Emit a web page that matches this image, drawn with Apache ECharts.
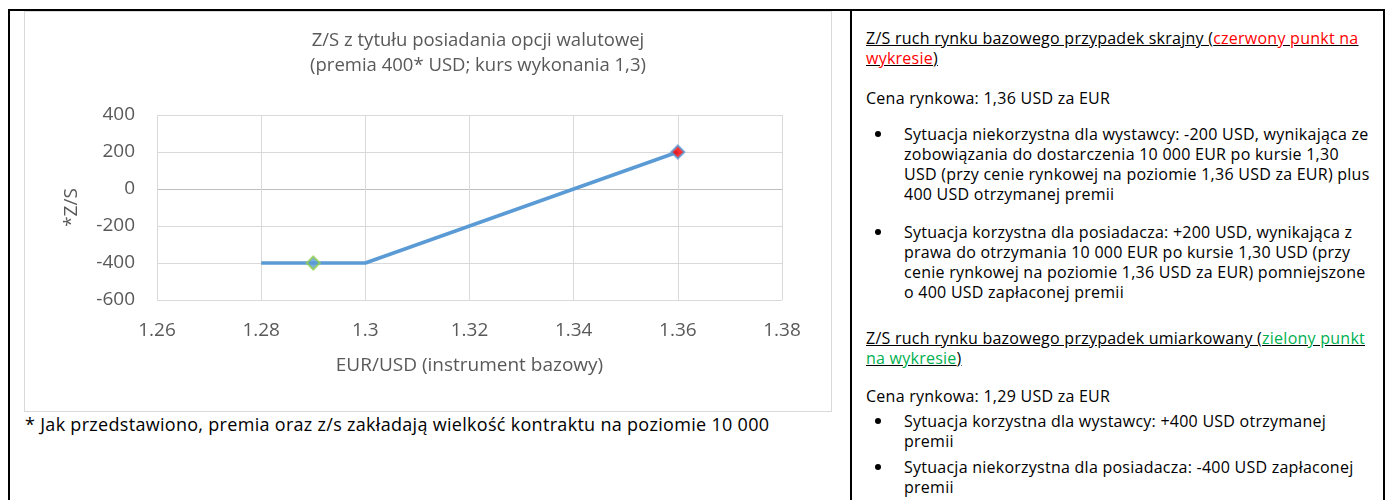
<!DOCTYPE html>
<html lang="pl">
<head>
<meta charset="UTF-8">
<title>Z/S opcji walutowej</title>
<style>
  body { margin: 0; background: #fff; width: 1387px; height: 500px; overflow: hidden; position: relative; font-family: "Open Sans", sans-serif; }
  .bl { position: absolute; background: #000; }
  #chart { position: absolute; left: 24px; top: 11px; width: 808px; height: 401px; border: 1px solid #d9d9d9; box-sizing: border-box; }
  #note { position: absolute; left: 25px; top: 412px; font-size: 18px; letter-spacing: 0.3px; line-height: 24px; color: #000; white-space: nowrap; }
  .p { position: absolute; left: 866px; font-size: 16px; letter-spacing: 0.25px; line-height: 20px; color: #000; white-space: nowrap; }
  .p.li { left: 904px; }
  .p.li:before { content: ""; position: absolute; left: -29px; top: 7px; width: 6px; height: 6px; border-radius: 3px; background: #000; }
  .u { text-decoration: underline; }
  .red { color: #ff0000; }
  .green { color: #00b050; }
</style>
</head>
<body>
  <div class="bl" style="left:8px;top:9px;width:1377px;height:2px"></div>
  <div class="bl" style="left:8px;top:9px;width:2px;height:491px"></div>
  <div class="bl" style="left:850px;top:9px;width:2px;height:491px"></div>
  <div class="bl" style="left:1383px;top:9px;width:2px;height:491px"></div>

  <div id="chart"></div>
  <div id="note">* Jak przedstawiono, premia oraz z/s zakładają wielkość kontraktu na poziomie 10 000</div>

  <div class="p u" style="top:28px">Z/S ruch rynku bazowego przypadek skrajny (<span class="red">czerwony punkt na<br>wykresie</span>)</div>
  <div class="p" style="top:88px">Cena rynkowa: 1,36 USD za EUR</div>
  <div class="p li" style="top:124px">Sytuacja niekorzystna dla wystawcy: -200 USD, wynikająca ze<br>zobowiązania do dostarczenia 10 000 EUR po kursie 1,30<br>USD (przy cenie rynkowej na poziomie 1,36 USD za EUR) plus<br>400 USD otrzymanej premii</div>
  <div class="p li" style="top:222px">Sytuacja korzystna dla posiadacza: +200 USD, wynikająca z<br>prawa do otrzymania 10 000 EUR po kursie 1,30 USD (przy<br>cenie rynkowej na poziomie 1,36 USD za EUR) pomniejszone<br>o 400 USD zapłaconej premii</div>
  <div class="p u" style="top:328px">Z/S ruch rynku bazowego przypadek umiarkowany (<span class="green">zielony punkt<br>na wykresie</span>)</div>
  <div class="p" style="top:386px">Cena rynkowa: 1,29 USD za EUR</div>
  <div class="p li" style="top:411px">Sytuacja korzystna dla wystawcy: +400 USD otrzymanej<br>premii</div>
  <div class="p li" style="top:457px">Sytuacja niekorzystna dla posiadacza: -400 USD zapłaconej<br>premii</div>

  <script src="https://cdn.jsdelivr.net/npm/echarts@6/dist/echarts.min.js"></script>
  <script>
    // kurs EUR/USD i wynik z/s
    var kurs = [1.28, 1.30, 1.36];
    var zs = [-400, -400, 200];
    // punkty z opisu obok
    var punktZielony = [1.29, -400];
    var punktCzerwony = [1.36, 200];

    var linia = [];
    for (var i = 0; i < kurs.length; i++) {
      linia.push([kurs[i], zs[i]]);
    }

    var szary = '#595959';
    var siatka = '#d9d9d9';
    var czcionka = '"Open Sans", sans-serif';

    var myChart = echarts.init(document.getElementById('chart'));
    var option = {
      animation: false,
      textStyle: { fontFamily: czcionka },
      graphic: [{
        type: 'text',
        x: 453,
        y: 16,
        style: {
          text: 'Z/S z tytułu posiadania opcji walutowej\n(premia 400* USD; kurs wykonania 1,3)',
          align: 'center',
          fill: szary,
          fontSize: 18.5,
          lineHeight: 25,
          fontFamily: czcionka
        }
      }],
      grid: { left: 132, right: 49, top: 103, bottom: 111 },
      xAxis: {
        type: 'value',
        min: 1.26,
        max: 1.38,
        interval: 0.02,
        name: 'EUR/USD (instrument bazowy)',
        nameLocation: 'middle',
        nameGap: 56,
        nameTextStyle: { color: szary, fontSize: 19 },
        axisLine: { show: false },
        axisTick: { show: false },
        axisLabel: {
          color: szary, fontSize: 19, margin: 21,
          formatter: function (v) { return String(Math.round(v * 100) / 100); }
        },
        splitLine: { show: true, lineStyle: { color: siatka, width: 1 } }
      },
      yAxis: {
        type: 'value',
        min: -600,
        max: 400,
        interval: 200,
        name: '*Z/S',
        nameLocation: 'middle',
        nameRotate: 90,
        nameGap: 76,
        nameTextStyle: { color: szary, fontSize: 19 },
        axisLine: { show: false },
        axisTick: { show: false },
        axisLabel: { color: szary, fontSize: 19, margin: 22 },
        splitLine: {
          lineStyle: {
            color: [siatka, siatka, siatka, '#bfbfbf', siatka, siatka],
            width: 1
          }
        }
      },
      series: [{
        type: 'line',
        data: linia,
        symbol: 'none',
        lineStyle: { color: '#5b9bd5', width: 3.5 },
        z: 2
      }, {
        type: 'scatter',
        data: [punktZielony],
        symbol: 'diamond',
        symbolSize: 13,
        itemStyle: { color: '#5b9bd5', borderColor: '#92d050', borderWidth: 2 },
        z: 3
      }, {
        type: 'scatter',
        data: [punktCzerwony],
        symbol: 'diamond',
        symbolSize: 13,
        itemStyle: { color: '#ff0000', borderColor: '#5b9bd5', borderWidth: 2 },
        z: 3
      }]
    };
    myChart.setOption(option);
  </script>
</body>
</html>
